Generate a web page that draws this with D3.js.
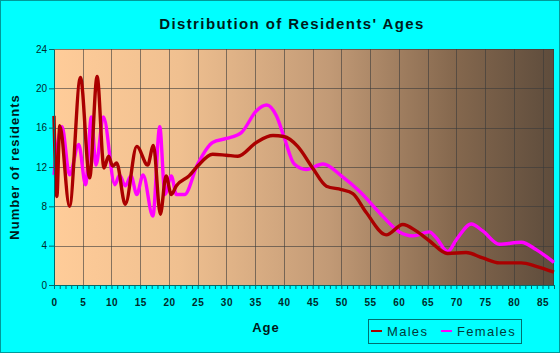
<!DOCTYPE html>
<html>
<head>
<meta charset="utf-8">
<script src="https://cdn.jsdelivr.net/npm/d3@7"></script>
<style>
  body { margin: 0; background: #00ffff; }
  svg { display: block; font-family: "Liberation Sans", Arial, sans-serif; }
</style>
</head>
<body>
<svg id="chart" width="560" height="353"></svg>
<script>
// values
var maleAges = [0, 0.5, 1.0, 2.7, 4.6, 6.2, 7.5, 8.7, 9.5, 10.2, 10.9, 12.4, 14.4, 16.3, 17.3, 18.5, 19.5, 20.4, 21.3, 23.5, 25, 27.6, 30, 32, 35.2, 38.1, 40, 42.4, 45, 47.4, 50, 52, 54.3, 57.8, 60.7, 63, 65.3, 68.5, 71.7, 74.6, 77.5, 81.3, 83.9, 87];
var maleVals = [17.2, 9.0, 16.2, 8.0, 21.1, 10.9, 21.2, 11.9, 13.1, 12.1, 12.4, 8.2, 14.1, 12.2, 14.2, 7.2, 11.1, 9.2, 10.1, 11.1, 12.1, 13.3, 13.2, 13.1, 14.5, 15.2, 15.1, 14.1, 11.9, 10.05, 9.7, 9.3, 7.4, 5.1, 6.15, 5.5, 4.5, 3.2, 3.3, 2.75, 2.25, 2.25, 1.9, 1.3];

var femaleAges = [0, 1.4, 2.7, 4.3, 5.5, 6.5, 7.3, 8.6, 10.6, 11.4, 12.4, 13.4, 14.4, 15.5, 17.2, 18.4, 19.3, 20.4, 21.3, 22.7, 25, 27.6, 30, 32.6, 35.2, 37, 38.7, 40, 41.8, 43.9, 46.8, 50, 53.2, 56.7, 60.1, 62.5, 65.3, 66.5, 68.5, 70, 72.6, 74.6, 77.5, 81.3, 83.9, 87];
var femaleVals = [11.2, 16.1, 11.2, 14.3, 10.2, 17.1, 12.2, 17.1, 10.2, 11.2, 10.1, 11.1, 9.2, 11.2, 7.0, 16.1, 9.2, 11.1, 9.2, 9.2, 12.3, 14.5, 14.9, 15.5, 17.7, 18.3, 17.2, 15.1, 12.3, 11.75, 12.3, 11.1, 9.5, 7.3, 5.4, 5.0, 5.4, 4.8, 3.4, 4.6, 6.2, 5.5, 4.15, 4.35, 3.6, 2.3];

var xTicks = [0, 5, 10, 15, 20, 25, 30, 35, 40, 45, 50, 55, 60, 65, 70, 75, 80, 85];
var yTicks = [0, 4, 8, 12, 16, 20, 24];
var seriesNames = ['Males', 'Females'];
var seriesColors = ['#aa0000', '#ff00ff'];

var svg = d3.select('#chart'),
  margin = {top: 49, right: 6, bottom: 68, left: 54},
  width = +svg.attr('width') - margin.left - margin.right,
  height = +svg.attr('height') - margin.top - margin.bottom;

// outer frame
svg.append('rect')
  .attr('x', 0.5).attr('y', 0.5)
  .attr('width', 559).attr('height', 352)
  .attr('fill', '#00ffff')
  .attr('stroke', '#009a9a');

var defs = svg.append('defs');
var grad = defs.append('linearGradient').attr('id', 'bg')
  .attr('x1', '0%').attr('x2', '100%').attr('y1', '0%').attr('y2', '0%');
grad.append('stop').attr('offset', '0%').attr('stop-color', '#ffcc99');
grad.append('stop').attr('offset', '25%').attr('stop-color', '#f0c090');
grad.append('stop').attr('offset', '55%').attr('stop-color', '#c29a76');
grad.append('stop').attr('offset', '80%').attr('stop-color', '#85684e');
grad.append('stop').attr('offset', '100%').attr('stop-color', '#5e4c3c');

var g = svg.append('g').attr('transform', 'translate(' + margin.left + ',' + margin.top + ')');

var x = d3.scaleLinear().domain([0, 87]).range([0, width]);
var y = d3.scaleLinear().domain([0, 24]).range([height, 0]);

g.append('rect')
  .attr('width', width).attr('height', height)
  .attr('fill', 'url(#bg)');

// grid
g.append('g').selectAll('line.v')
  .data(xTicks.filter(function(d) { return d > 0; }))
  .enter().append('line')
  .attr('x1', function(d) { return Math.round(x(d)) + 0.5; })
  .attr('x2', function(d) { return Math.round(x(d)) + 0.5; })
  .attr('y1', 0).attr('y2', height)
  .attr('stroke', '#3a3a3a').attr('stroke-opacity', 0.6);
g.append('g').selectAll('line.h')
  .data(yTicks.filter(function(d) { return d > 0; }))
  .enter().append('line')
  .attr('x1', 0).attr('x2', width)
  .attr('y1', function(d) { return Math.round(y(d)) + 0.5; })
  .attr('y2', function(d) { return Math.round(y(d)) + 0.5; })
  .attr('stroke', '#3a3a3a').attr('stroke-opacity', 0.6);
g.append('line')
  .attr('x1', width - 0.5).attr('x2', width - 0.5)
  .attr('y1', 0).attr('y2', height)
  .attr('stroke', '#3a3a3a').attr('stroke-opacity', 0.7);

// lines
var line = d3.line()
  .curve(d3.curveMonotoneX)
  .x(function(d) { return x(d[0]); })
  .y(function(d) { return y(d[1]); });

var series = [d3.zip(maleAges, maleVals), d3.zip(femaleAges, femaleVals)];
// females are drawn under males
[1, 0].forEach(function(i) {
  g.append('path')
    .datum(series[i])
    .attr('d', line)
    .style('fill', 'none')
    .attr('stroke', seriesColors[i])
    .style('stroke-width', '3.4px')
    .style('stroke-linejoin', 'round');
});

// axes
var xAxis = g.append('g')
  .attr('transform', 'translate(0,' + height + ')')
  .call(d3.axisBottom(x)
    .tickValues(d3.range(0, 88))
    .tickSize(4)
    .tickSizeOuter(0)
    .tickFormat(function(d) { return xTicks.indexOf(d) !== -1 ? d : ''; }));
xAxis.select('.domain').attr('stroke', '#006a6a');
xAxis.selectAll('.tick line').attr('stroke', '#006a6a');
xAxis.selectAll('.tick text')
  .attr('dy', '1.05em')
  .attr('y', 10)
  .style('font-size', '10px')
  .style('font-weight', 'bold')
  .style('letter-spacing', '0.5px')
  .attr('fill', '#002b2b');

var yAxis = g.append('g')
  .call(d3.axisLeft(y)
    .tickValues(yTicks)
    .tickSize(5)
    .tickSizeOuter(0));
yAxis.select('.domain').attr('stroke', '#006a6a');
yAxis.selectAll('.tick line').attr('stroke', '#006a6a');
yAxis.selectAll('.tick text')
  .attr('x', -7)
  .style('font-size', '10px')
  .attr('fill', '#002b2b');

// titles
svg.append('text')
  .attr('x', 292).attr('y', 29)
  .attr('text-anchor', 'middle')
  .style('font-size', '15px').style('font-weight', 'bold')
  .style('letter-spacing', '1.4px')
  .attr('fill', '#001a1a')
  .text("Distribution of Residents' Ages");

svg.append('text')
  .attr('x', 266).attr('y', 332)
  .attr('text-anchor', 'middle')
  .style('font-size', '13px').style('font-weight', 'bold')
  .style('letter-spacing', '1px')
  .attr('fill', '#001a1a')
  .text('Age');

svg.append('text')
  .attr('transform', 'translate(19,167) rotate(-90)')
  .attr('text-anchor', 'middle')
  .style('font-size', '13px').style('font-weight', 'bold')
  .style('letter-spacing', '1px')
  .attr('fill', '#001a1a')
  .text('Number of residents');

// legend
var leg = svg.append('g');
leg.append('rect')
  .attr('x', 368.5).attr('y', 319.5)
  .attr('width', 153).attr('height', 24)
  .attr('fill', 'none').attr('stroke', '#007070');
var legX = [371, 441];
seriesNames.forEach(function(name, i) {
  leg.append('line')
    .attr('x1', legX[i]).attr('x2', legX[i] + 11)
    .attr('y1', 331).attr('y2', 331)
    .attr('stroke', seriesColors[i]).attr('stroke-width', 2);
  leg.append('text')
    .attr('x', legX[i] + 16).attr('y', 336)
    .style('font-size', '13px')
    .style('letter-spacing', '1.3px')
    .attr('fill', '#003a3a')
    .text(name);
});
</script>
</body>
</html>
